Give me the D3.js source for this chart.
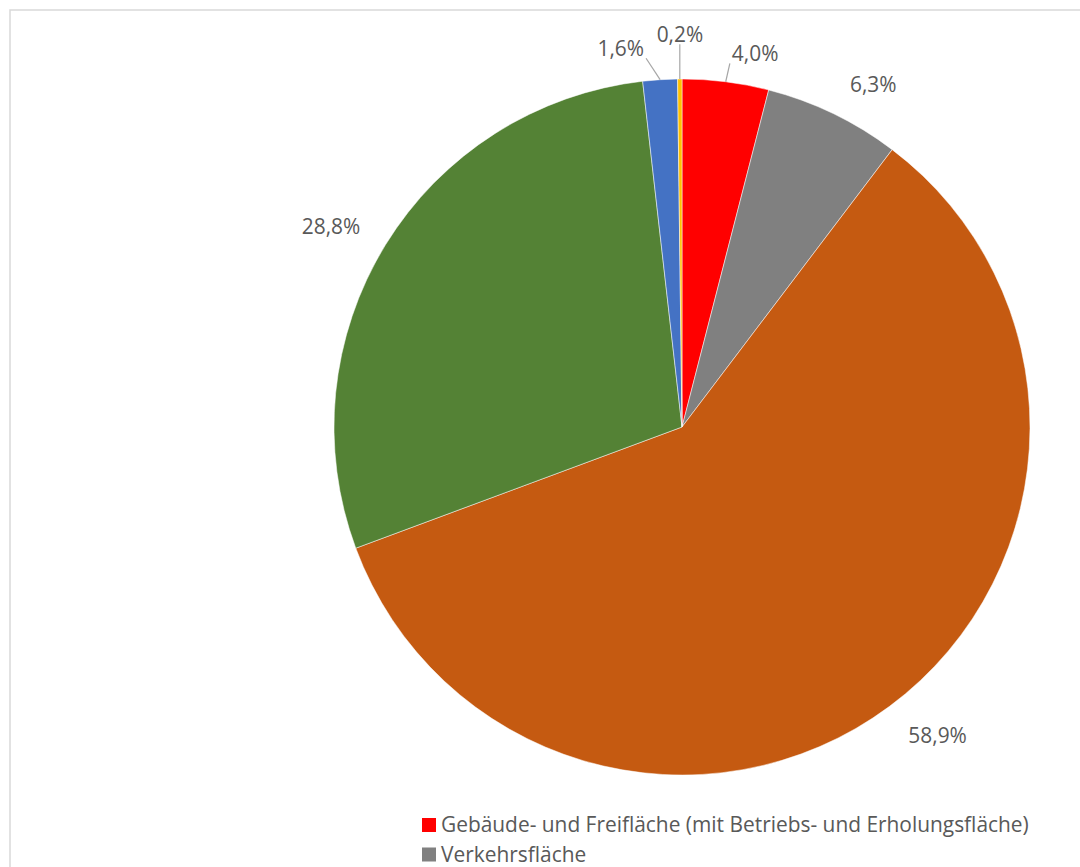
<!DOCTYPE html>
<html>
<head>
<meta charset="utf-8">
<script src="https://cdn.jsdelivr.net/npm/d3@7"></script>
<style>
  body { margin: 0; background: #fff; }
  svg { display: block; font-family: 'Open Sans', Lato, sans-serif; }
</style>
</head>
<body>
<svg width="1080" height="867"></svg>
<script>
// Flächennutzung, Anteile in %
var categories = [
  'Gebäude- und Freifläche (mit Betriebs- und Erholungsfläche)',
  'Verkehrsfläche',
  'Landwirtschaftsfläche',
  'Waldfläche',
  'Wasserfläche',
  'Flächen anderer Nutzung'
]
var shares = [4.0, 6.3, 58.9, 28.8, 1.6, 0.2]
var colors = ['#FF0000', '#808080', '#C55A11', '#548235', '#4472C4', '#FFC000']

// where Excel put each data label (polar: degrees clockwise from top, distance from centre)
var labelSpots = [
  { angle: 11.1, r: 380, leader: true },
  { angle: 29.2, r: 392, leader: false },
  { angle: 140.4, r: 401, leader: false },
  { angle: 299.7, r: 404, leader: false },
  { angle: 350.8, r: 383, leader: true },
  { angle: 359.7, r: 392, leader: true }
]

var svg = d3.select('svg')
var width = 1080
var height = 867
var cx = 682
var cy = 427
var radius = 348
var textColor = '#595959'
var fontSize = '20.9px'

var fmt = d3.formatLocale({ decimal: ',', thousands: '.', grouping: [3] }).format('.1f')

// chart border (box runs off the right and bottom edge)
svg.append('rect')
  .attr('x', 10)
  .attr('y', 10)
  .attr('width', width + 20)
  .attr('height', height + 20)
  .attr('fill', 'none')
  .attr('stroke', '#D9D9D9')
  .attr('stroke-width', 1.5)

var pie = d3.pie().sort(null).value(function (d) { return d })
var arcs = pie(shares)
var arc = d3.arc().innerRadius(0).outerRadius(radius)

var pieG = svg.append('g').attr('transform', 'translate(' + cx + ',' + cy + ')')

pieG.selectAll('path')
  .data(arcs)
  .enter().append('path')
  .attr('d', arc)
  .attr('fill', function (d, i) { return colors[i] })
  .attr('stroke', '#fff')
  .attr('stroke-width', 0.5)

function polar (deg, r) {
  var a = deg * Math.PI / 180
  return [r * Math.sin(a), -r * Math.cos(a)]
}

var labelsG = pieG.append('g')

arcs.forEach(function (d, i) {
  var spot = labelSpots[i]
  var p = polar(spot.angle, spot.r)
  var t = labelsG.append('text')
    .attr('x', p[0])
    .attr('y', p[1])
    .attr('dy', '0.35em')
    .attr('text-anchor', 'middle')
    .attr('fill', textColor)
    .style('font-size', fontSize)
    .text(fmt(d.data) + '%')

  if (spot.leader) {
    var bb = t.node().getBBox()
    var mid = (d.startAngle + d.endAngle) / 2
    var sx = radius * Math.sin(mid)
    var sy = -radius * Math.cos(mid)
    var ex = Math.max(bb.x - 2, Math.min(bb.x + bb.width + 2, sx))
    var ey = Math.max(bb.y, Math.min(bb.y + bb.height - 4, sy))
    labelsG.append('line')
      .attr('x1', sx)
      .attr('y1', sy)
      .attr('x2', ex)
      .attr('y2', ey)
      .attr('stroke', '#A6A6A6')
      .attr('stroke-width', 1.2)
  }
})

// legend, one row per category; rows below the page are cut off
var legendG = svg.append('g')
var rowH = 29.5
categories.forEach(function (name, i) {
  var y = 832 + i * rowH
  if (y > height) return
  legendG.append('rect')
    .attr('x', 422)
    .attr('y', y - 14)
    .attr('width', 14)
    .attr('height', 14)
    .attr('fill', colors[i])
  legendG.append('text')
    .attr('x', 441)
    .attr('y', y)
    .attr('fill', textColor)
    .style('font-size', fontSize)
    .text(name)
})
</script>
</body>
</html>
